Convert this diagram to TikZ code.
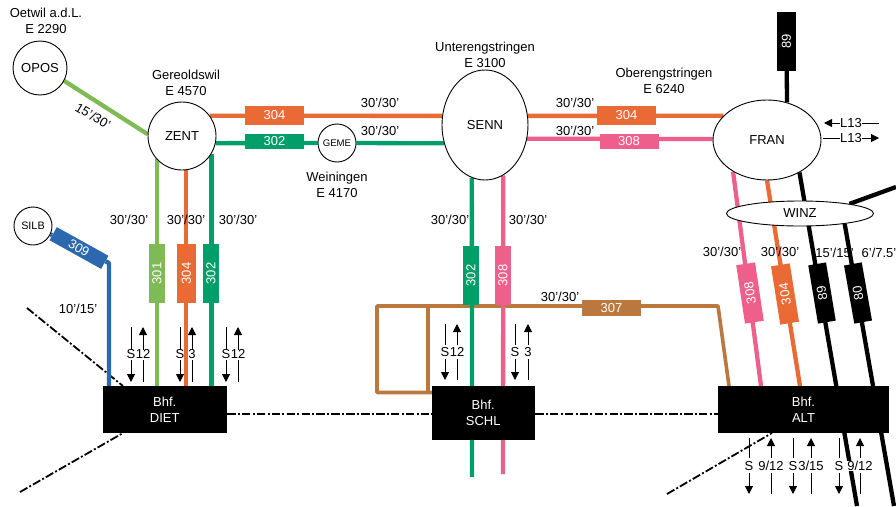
\documentclass[tikz,border=0pt]{standalone}
\usepackage{xcolor}
\usepackage{fontspec}
\setmainfont{Liberation Sans}
\usetikzlibrary{shapes.geometric, arrows.meta, backgrounds}
\definecolor{linelime}{RGB}{127, 186, 85}
\definecolor{lineorange}{RGB}{233, 106, 53}
\definecolor{linegreen}{RGB}{0, 158, 104}
\definecolor{linepink}{RGB}{238, 95, 139}
\definecolor{lineblue}{RGB}{43, 104, 174}
\definecolor{linebrown}{RGB}{186, 120, 63}
\tikzset{
  txt/.style={font=\fontsize{13}{16}\selectfont, inner sep=0pt, align=center},
  stop/.style={draw, fill=white, circle, line width=0.9pt, inner sep=0pt, txt},
  oval/.style={draw, fill=white, ellipse, line width=0.9pt, inner sep=0pt, txt},
  bhf/.style={fill=black, text=white, rectangle, inner sep=0pt, txt},
  linebox/.style={fill=#1, text=white, rectangle, inner sep=0pt, minimum width=59pt, txt},
  railline/.style={draw=#1, line width=4.3pt},
  border/.style={line width=1.8pt, dash pattern=on 8.5pt off 2.2pt on 2pt off 2.2pt},
  thin/.style={line width=1pt},
  tip/.style={line width=1pt, -{Triangle[length=8pt,width=8pt]}}
}
\begin{document}
\begin{tikzpicture}[x=1pt,y=-1pt]
        \useasboundingbox (0,0) rectangle (896,506);

        % Stops
        \node[stop, minimum size=54pt] (OPOS) at (40,68) {OPOS};
        \node[stop, minimum size=68pt] (ZENT) at (182,136) {ZENT};
        \node[stop, minimum size=38pt, font=\fontsize{9.6}{12}\selectfont] (GEME) at (337,143) {GEME};
        \node[stop, minimum size=38pt, font=\fontsize{10.8}{13}\selectfont] (SILB) at (33,226) {SILB};
        \node[oval, minimum width=86pt, minimum height=110pt] (SENN) at (485,125) {SENN};
        \node[oval, minimum width=108pt, minimum height=80pt] (FRAN) at (767,140) {FRAN};
        \node[oval, minimum width=147pt, minimum height=25pt] (WINZ) at (800,213.5) {WINZ};

        % Stations
        \node[bhf, minimum width=124.5pt, minimum height=47pt] (DIET) at (164.75,409.5) {Bhf.\\DIET};
        \node[bhf, minimum width=102.5pt, minimum height=54pt] (SCHL) at (483.25,413) {Bhf.\\SCHL};
        \node[bhf, minimum width=171pt, minimum height=47pt] (ALT) at (803.5,409.5) {Bhf.\\ALT};

        % Line boxes
        \node[linebox=lineorange, minimum height=19pt] (a304) at (274.5,115.5) {304};
        \node[linebox=linegreen, minimum height=15pt] (a302) at (274.5,141.5) {302};
        \node[linebox=lineorange, minimum height=19pt] (b304) at (626.5,115.5) {304};
        \node[linebox=linepink, minimum height=15pt] (b308) at (629,141.5) {308};
        \node[linebox=linelime, minimum height=16pt, rotate=90] (c301) at (157,273.5) {301};
        \node[linebox=lineorange, minimum height=19pt, rotate=90] (c304) at (186.5,273.5) {304};
        \node[linebox=linegreen, minimum height=16pt, rotate=90] (c302) at (211,273.5) {302};
        \node[linebox=lineblue, minimum height=15pt, rotate=-29] (a309) at (79,248) {309};
        \node[linebox=linegreen, minimum height=16pt, rotate=90] (d302) at (471,275.5) {302};
        \node[linebox=linepink, minimum height=16pt, rotate=90] (d308) at (503,275.5) {308};
        \node[linebox=linebrown, minimum height=16pt] (a307) at (611.5,308) {307};
        \node[linebox=linepink, minimum height=19pt, rotate=98.5] (e308) at (750,293) {308};
        \node[linebox=lineorange, minimum height=19pt, rotate=99] (e304) at (785,294) {304};
        \node[linebox=black, minimum height=18pt, rotate=99.5] (e89) at (822,293) {89};
        \node[linebox=black, minimum height=18pt, rotate=100] (e80) at (858,293) {80};
        \node[linebox=black, minimum height=19pt, rotate=90] (t89) at (786.5,41.5) {89};

        % Free ends
        \coordinate (g309) at (109,263);
        \coordinate (g309e) at (109,386);
        \coordinate (g308e) at (761,386);
        \coordinate (g304e) at (800,386);
        \coordinate (g89e) at (857,506);
        \coordinate (g80e) at (894,506);
        \coordinate (g80o) at (896,187);
        \coordinate (s302e) at (472,477);
        \coordinate (s308e) at (503,474);
        \coordinate (r1) at (377,306);
        \coordinate (r2) at (377,392.5);
        \coordinate (r3) at (432,392.5);
        \coordinate (r4) at (428,306);
        \coordinate (r5) at (428,392.5);
        \coordinate (r6) at (718,306);
        \coordinate (r7) at (729,386);
        \coordinate (w1) at (27,308);
        \coordinate (w2) at (123,386);
        \coordinate (w3) at (20,492);
        \coordinate (w4) at (123,433);
        \coordinate (w5) at (667,494);
        \coordinate (w6) at (772,433);
        \coordinate (w7) at (227,413.7);
        \coordinate (w8) at (432,413.7);
        \coordinate (w9) at (535,413.7);
        \coordinate (w10) at (718,413.7);

        % Everything that runs behind stops and boxes
        \begin{scope}[on background layer]
          \node[txt] at (834.5,253) {15'/15'};
          % Borders
          \draw[border] (w1) -- (w2);
          \draw[border] (w3) -- (w4);
          \draw[border] (w5) -- (w6);
          \draw[border] (w7) -- (w8);
          \draw[border] (w9) -- (w10);
          % Brown line
          \draw[railline=linebrown, line width=3.6pt, line join=round] (r3) -- (r2) -- (r1) -- (r6) -- (r7);
          \draw[railline=linebrown, line width=3.6pt] (r4) -- (r5);
          % Lines
          \draw[railline=linelime] (OPOS.-28) -- (ZENT.177);
          \draw[railline=lineorange] (ZENT.36) -- (SENN.168);
          \draw[railline=lineorange] (SENN.12) -- (FRAN.151);
          \draw[railline=linegreen] (ZENT.-12) -- (GEME);
          \draw[railline=linegreen] (GEME) -- (SENN.204);
          \draw[railline=linepink] (SENN.-18.6) -- (FRAN.179);
          \draw[railline=linelime] (ZENT.-137) -- (ZENT.-137 |- DIET.north);
          \draw[railline=lineorange] (ZENT.-83) -- (ZENT.-83 |- DIET.north);
          \draw[railline=linegreen] (ZENT.-31.5) -- (ZENT.-31.5 |- DIET.north);
          \draw[railline=lineblue, line join=round] (SILB) -- (a309) -- (g309) -- (g309e);
          \draw[railline=linegreen] (SENN.-104) -- (s302e);
          \draw[railline=linepink] (SENN.-70.2) -- (s308e);
          \draw[railline=linepink] (FRAN.-137) -- (g308e);
          \draw[railline=lineorange] (FRAN.south) -- (g304e);
          \draw[railline=black] (t89) -- (FRAN.62);
          \draw[railline=black] (FRAN.-45) -- (g89e);
          \draw[railline=black] (WINZ.-13.4) -- (g80e);
          \draw[railline=black] (WINZ.11) -- (g80o);
        \end{scope}

        % Place names
        \node[txt] at (46,20.5) {Oetwil a.d.L.\\E 2290};
        \node[txt] at (186,83) {Gereoldswil\\E 4570};
        \node[txt] at (337,185) {Weiningen\\E 4170};
        \node[txt] at (485,54.5) {Unterengstringen\\E 3100};
        \node[txt] at (664,80.5) {Oberengstringen\\E 6240};

        % Intervals
        \node[txt, rotate=-31] at (93,116) {15'/30'};
        \foreach \x/\y/\t in {380/103/{30'/30'}, 380/131/{30'/30'}, 575/103/{30'/30'}, 575/131/{30'/30'},
            129/220/{30'/30'}, 186/220/{30'/30'}, 238/220/{30'/30'}, 450/220/{30'/30'}, 528/220/{30'/30'},
            560/297/{30'/30'}, 722/252/{30'/30'}, 780/252/{30'/30'}, 879/253/{6'/7.5'}, 78/309/{10'/15'}}
          \node[txt] at (\x,\y) {\t};

        % S-Bahn groups
        \foreach \nm/\xa/\xb/\ya/\yb/\yc/\yd/\ym/\lab in {
            sa/131/143/327/350/360/382/354/12, sb/180/192/327/350/360/382/354/3, sc/226/238/327/350/360/382/354/12,
            sd/445/457/324/345/359/380/352/12, se/515/528/324/345/359/380/352/3,
            sf/749/771/438/458/473/494/466/{9/12}, sg/793/811/438/458/473/494/466/{3/15}, sh/839/860/438/458/473/494/466/{9/12}}{
          \node[txt, fill=white] (\nm r) at (\xb,\ym) {\lab};
          \node[txt] (\nm l) at (\xa,\ym) {S};
          \coordinate (\nm a) at (\xa,\ya);
          \coordinate (\nm b) at (\xa,\yb);
          \coordinate (\nm c) at (\xa,\yc);
          \coordinate (\nm d) at (\xa,\yd);
          \coordinate (\nm e) at (\xb,\ya);
          \coordinate (\nm f) at (\xb,\yb);
          \coordinate (\nm g) at (\xb,\yc);
          \coordinate (\nm h) at (\xb,\yd);
          \draw[thin] (\nm a) -- (\nm b);
          \draw[tip] (\nm c) -- (\nm d);
          \draw[tip] (\nm f) -- (\nm e);
          \draw[thin] (\nm g) -- (\nm h);
        }

        % L13
        \node[txt] (la) at (851,123) {L13};
        \node[txt] (lb) at (851,138) {L13};
        \coordinate (la1) at (824,123);
        \coordinate (la2) at (879,123);
        \coordinate (lb1) at (823,138);
        \coordinate (lb2) at (879,138);
        \draw[tip] (la.west) -- (la1);
        \draw[thin] (la.east) -- (la2);
        \draw[thin] (lb.west) -- (lb1);
        \draw[tip] (lb.east) -- (lb2);
    \end{tikzpicture}
\end{document}
